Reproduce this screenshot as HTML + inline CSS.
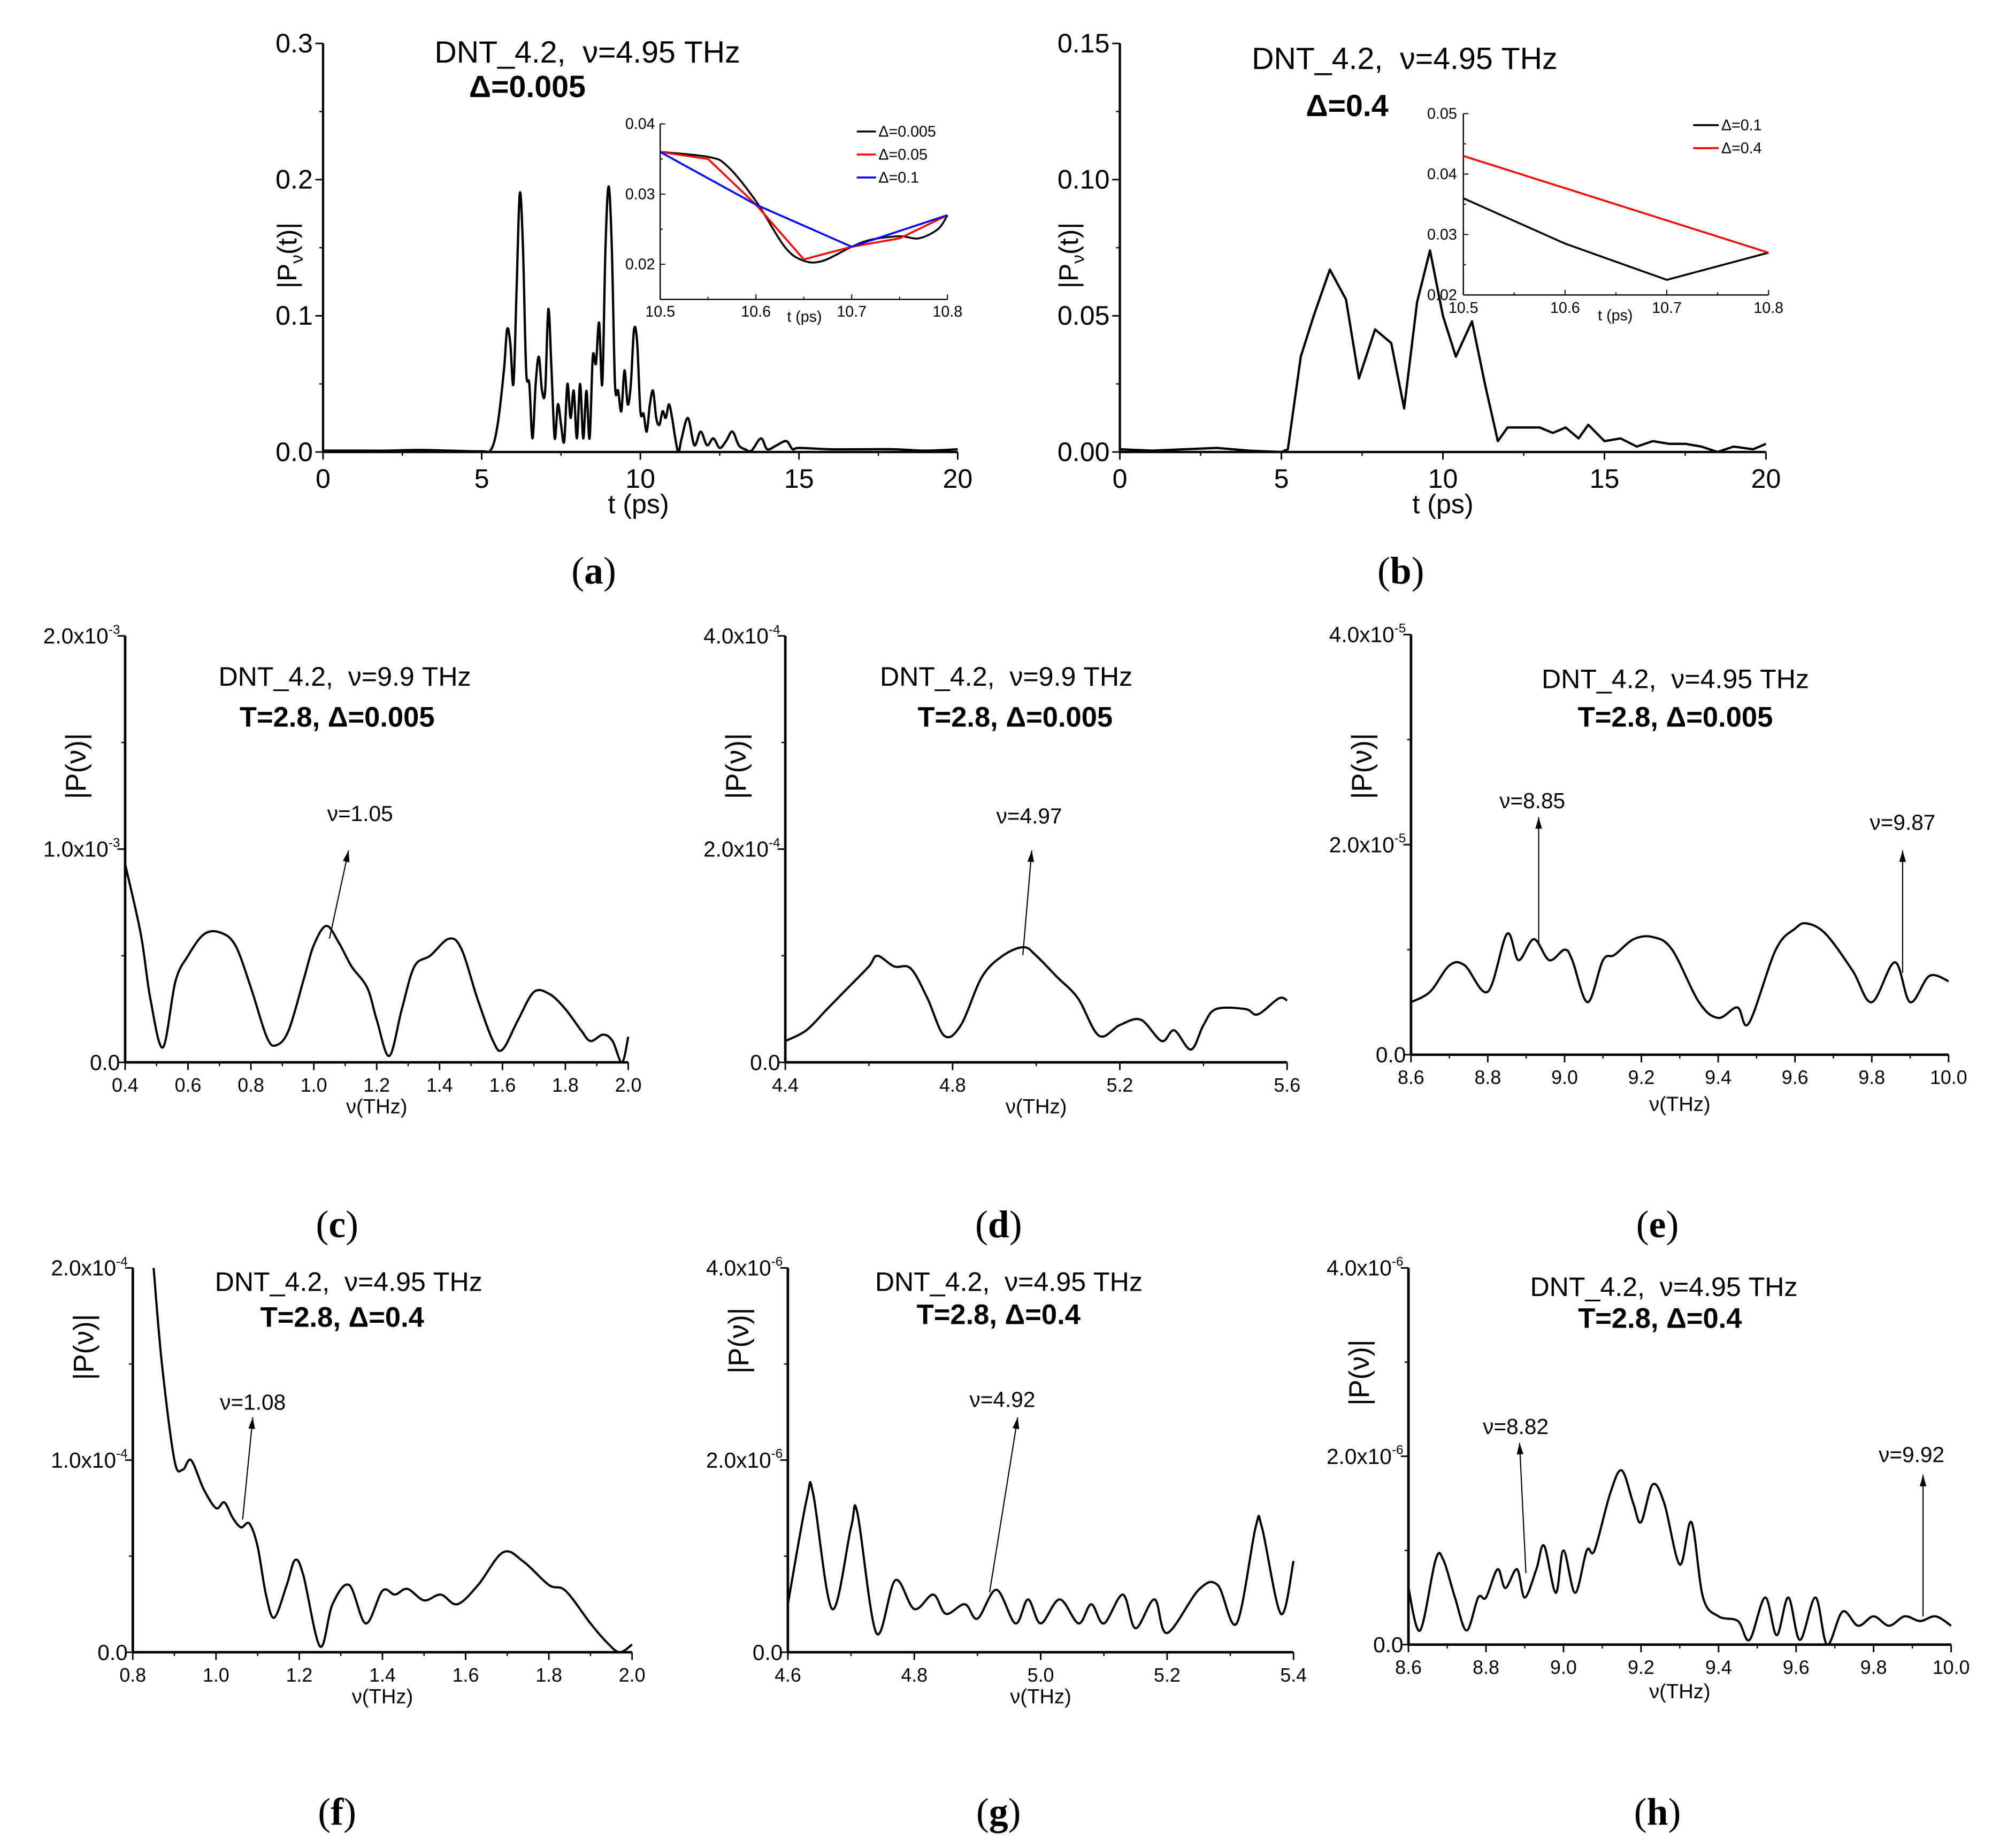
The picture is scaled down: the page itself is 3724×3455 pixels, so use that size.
<!DOCTYPE html>
<html><head><meta charset="utf-8"><style>
html,body{margin:0;padding:0;background:#fff}
svg{display:block}
text{font-family:"Liberation Sans",sans-serif;fill:#000;white-space:pre}
.ser{font-family:"Liberation Serif",serif}
</style></head><body>
<svg id="fig" width="3724" height="3455" viewBox="0 0 1560 1447.3" xmlns="http://www.w3.org/2000/svg">
<rect width="1560" height="1447.3" fill="#fff"/>
<g id="root"></g>
</svg>
<script>
// ---- data ----
const aT=[0,1,2,3,4,5,5.3,5.5,5.7,5.8,5.9,6.0,6.1,6.2,6.3,6.4,6.5,6.6,6.7,6.8,6.9,7.0,7.1,7.2,7.3,7.4,7.5,7.6,7.7,7.8,7.9,8.0,8.1,8.2,8.3,8.4,8.5,8.6,8.7,8.8,8.9,9.0,9.1,9.2,9.3,9.4,9.5,9.6,9.7,9.8,9.9,10.0,10.1,10.2,10.3,10.4,10.5,10.6,10.7,10.8,10.9,11.0,11.1,11.2,11.3,11.5,11.7,11.9,12.1,12.3,12.5,12.7,12.9,13.1,13.3,13.5,13.8,14.0,14.3,14.6,14.8,15,16,17,18,19,20];
const aV=[0.001,0.001,0.001,0.0015,0.001,0.0005,0.002,0.02,0.06,0.09,0.08,0.05,0.12,0.19,0.15,0.06,0.05,0.01,0.05,0.07,0.045,0.045,0.105,0.06,0.01,0.035,0.02,0.008,0.05,0.025,0.045,0.01,0.05,0.01,0.045,0.01,0.07,0.065,0.095,0.05,0.15,0.195,0.15,0.05,0.045,0.03,0.06,0.035,0.05,0.09,0.08,0.03,0.028,0.015,0.035,0.045,0.025,0.02,0.03,0.025,0.035,0.025,0.01,0.0,0.01,0.025,0.005,0.015,0.005,0.01,0.003,0.008,0.015,0.005,0.002,0.001,0.01,0.002,0.005,0.008,0.002,0.003,0.002,0.002,0.002,0.001,0.002];
const aInsBlackT=[10.5,10.55,10.57,10.6,10.63,10.65,10.67,10.7,10.72,10.75,10.77,10.79,10.8];
const aInsBlackV=[0.036,0.0353,0.034,0.029,0.0225,0.0205,0.0205,0.0225,0.0235,0.024,0.0237,0.025,0.027];
const aInsRedT=[10.5,10.55,10.6,10.65,10.7,10.75,10.8];
const aInsRedV=[0.036,0.035,0.0285,0.0207,0.0225,0.0237,0.027];
const aInsBlueT=[10.5,10.6,10.7,10.8];
const aInsBlueV=[0.036,0.0285,0.0225,0.027];
const bT=[0,1,2,3,4,5,5.2,5.6,6,6.5,7,7.4,7.9,8.4,8.8,9.2,9.6,10,10.4,10.9,11.3,11.7,12,13,13.4,13.8,14.2,14.5,15,15.5,16,16.5,17,17.5,18,18.5,19,19.6,20];
const bV=[0.001,0.0005,0.001,0.0015,0.0005,0.0,0.001,0.035,0.05,0.067,0.056,0.027,0.045,0.04,0.016,0.055,0.074,0.05,0.035,0.048,0.025,0.004,0.009,0.009,0.007,0.009,0.005,0.01,0.004,0.005,0.002,0.004,0.003,0.003,0.002,0.0,0.002,0.001,0.003];
const bInsBlackT=[10.5,10.6,10.7,10.8];
const bInsBlackV=[0.036,0.0285,0.0225,0.027];
const bInsRedT=[10.5,10.8];
const bInsRedV=[0.043,0.027];
const cF=[0.4,0.45,0.48,0.52,0.56,0.6,0.65,0.7,0.75,0.8,0.85,0.88,0.92,0.97,1.0,1.04,1.08,1.12,1.17,1.2,1.24,1.28,1.32,1.37,1.43,1.47,1.52,1.57,1.6,1.65,1.7,1.75,1.8,1.85,1.88,1.92,1.95,1.98,2.0];
const cP=[0.93,0.6,0.3,0.07,0.38,0.5,0.6,0.61,0.55,0.35,0.12,0.08,0.15,0.4,0.55,0.64,0.56,0.45,0.35,0.2,0.03,0.25,0.45,0.5,0.58,0.53,0.3,0.1,0.06,0.2,0.33,0.32,0.25,0.15,0.1,0.13,0.1,0.0,0.12];
const dF=[4.4,4.45,4.5,4.55,4.6,4.62,4.66,4.7,4.74,4.78,4.82,4.87,4.92,4.97,5.0,5.05,5.1,5.15,5.2,5.25,5.3,5.33,5.37,5.4,5.43,5.5,5.53,5.58,5.6];
const dP=[0.2,0.3,0.5,0.7,0.9,1.0,0.9,0.88,0.6,0.25,0.35,0.8,1.0,1.08,1.0,0.8,0.6,0.25,0.35,0.4,0.2,0.3,0.12,0.35,0.5,0.5,0.45,0.6,0.58];
const eF=[8.6,8.65,8.7,8.74,8.8,8.85,8.88,8.92,8.96,9.0,9.02,9.06,9.1,9.13,9.18,9.23,9.28,9.35,9.4,9.45,9.48,9.55,9.6,9.63,9.68,9.75,9.8,9.86,9.9,9.95,10.0];
const eP=[0.5,0.6,0.85,0.85,0.6,1.15,0.9,1.1,0.9,1.0,0.9,0.5,0.9,0.95,1.1,1.12,1.0,0.5,0.35,0.45,0.3,1.0,1.2,1.25,1.15,0.8,0.5,0.88,0.5,0.75,0.7];
const fF=[0.85,0.87,0.9,0.92,0.94,0.97,1.0,1.02,1.04,1.06,1.08,1.1,1.12,1.14,1.17,1.19,1.21,1.25,1.28,1.32,1.36,1.4,1.43,1.46,1.5,1.54,1.58,1.63,1.69,1.74,1.8,1.84,1.9,1.94,1.97,2.0];
const fP=[2.0,1.5,1.0,0.95,1.0,0.85,0.75,0.78,0.7,0.65,0.67,0.55,0.3,0.18,0.35,0.48,0.4,0.03,0.25,0.35,0.15,0.32,0.3,0.33,0.27,0.3,0.25,0.35,0.52,0.47,0.35,0.32,0.15,0.05,0.0,0.04];
const gF=[4.6,4.63,4.64,4.67,4.7,4.71,4.74,4.77,4.8,4.83,4.85,4.88,4.9,4.93,4.96,4.98,5.0,5.03,5.06,5.08,5.1,5.13,5.15,5.18,5.2,5.25,5.28,5.31,5.34,5.35,5.38,5.4];
const gP=[0.5,1.6,1.65,0.45,1.3,1.45,0.2,0.75,0.45,0.6,0.4,0.5,0.35,0.65,0.3,0.55,0.3,0.55,0.3,0.5,0.3,0.6,0.25,0.55,0.2,0.65,0.7,0.3,1.3,1.3,0.4,0.95];
const hF=[8.6,8.63,8.67,8.69,8.72,8.75,8.78,8.8,8.83,8.85,8.88,8.9,8.93,8.95,8.98,9.0,9.03,9.06,9.08,9.12,9.15,9.18,9.2,9.23,9.26,9.3,9.33,9.36,9.4,9.45,9.48,9.52,9.55,9.58,9.61,9.65,9.68,9.72,9.76,9.8,9.84,9.88,9.92,9.96,10.0];
const hP=[0.6,0.15,0.9,0.9,0.5,0.15,0.5,0.5,0.8,0.6,0.8,0.5,0.8,1.05,0.55,1.0,0.55,1.0,1.0,1.6,1.85,1.5,1.3,1.7,1.5,0.85,1.3,0.5,0.3,0.25,0.05,0.5,0.1,0.5,0.05,0.5,0.0,0.35,0.2,0.3,0.2,0.3,0.25,0.3,0.2];
const aXTicks=["0","5","10","15","20"];
const aYTicks=["0.0","0.1","0.2","0.3"];
const bYTicks=["0.00","0.05","0.10","0.15"];

// ---- helpers ----
const NS="http://www.w3.org/2000/svg";
const root=document.getElementById('root');
function el(tag,attrs,parent,txt){const e=document.createElementNS(NS,tag);for(const k in attrs)e.setAttribute(k,attrs[k]);if(txt!==undefined)e.textContent=txt;(parent||root).appendChild(e);return e;}
function scale(d0,d1,r0,r1){return v=>r0+(v-d0)*(r1-r0)/(d1-d0);}
function line(x1,y1,x2,y2,g,w){return el('line',{x1,y1,x2,y2,stroke:'#000','stroke-width':w||1.3},g);}
function series(xs,ys,sx,sy,g,color,w,name,smooth){
  const P=xs.map((x,i)=>[sx(x),sy(ys[i])]);
  let d='M'+P[0][0].toFixed(2)+','+P[0][1].toFixed(2);
  for(let i=0;i<P.length-1;i++){
    if(!smooth){d+='L'+P[i+1][0].toFixed(2)+','+P[i+1][1].toFixed(2);continue;}
    const p0=P[Math.max(0,i-1)],p1=P[i],p2=P[i+1],p3=P[Math.min(P.length-1,i+2)];
    const c1=[p1[0]+(p2[0]-p0[0])/6,p1[1]+(p2[1]-p0[1])/6];
    const c2=[p2[0]-(p3[0]-p1[0])/6,p2[1]-(p3[1]-p1[1])/6];
    d+='C'+c1.map(v=>v.toFixed(2)).join(',')+' '+c2.map(v=>v.toFixed(2)).join(',')+' '+p2[0].toFixed(2)+','+p2[1].toFixed(2);
  }
  const p=el('path',{d,fill:'none',stroke:color,'stroke-width':w,'stroke-linejoin':'round'},g);
  
  
  return p;
}
function axes(g,sx,sy,x0,x1,y0,y1,xmaj,xmin,ymaj,ymin,xlabels,ylabelFn,fs,lw,xlabDy,ylabDx){
  line(sx(x0),sy(y0),sx(x1),sy(y0),g,lw);
  line(sx(x0),sy(y0),sx(x0),sy(y1),g,lw);
  for(let v=x0;v<=x1+1e-9;v+=xmin){line(sx(v),sy(y0),sx(v),sy(y0)+3,g,1);}
  let i=0;
  for(let v=x0;v<=x1+1e-9;v+=xmaj){line(sx(v),sy(y0),sx(v),sy(y0)+6,g,1.2);
    if(xlabels){const t=el('text',{x:sx(v),y:sy(y0)+xlabDy,'font-size':fs,'text-anchor':'middle'},g,xlabels[i]);
      }
    i++;}
  for(let v=y0;v<=y1+1e-9;v+=ymin){line(sx(x0),sy(v),sx(x0)-3,sy(v),g,1);}
  i=0;
  for(let v=y0;v<=y1+1e-9;v+=ymaj){line(sx(x0),sy(v),sx(x0)-6,sy(v),g,1.2);
    if(ylabelFn)ylabelFn(sx(x0)-ylabDx,sy(v),i);i++;}
}
function txt(x,y,s,fs,g,opts){const a=Object.assign({x,y,'font-size':fs,'text-anchor':'middle'},opts||{});return el('text',a,g,s);}
function sciLabel(g,x,y,mant,exp,fs){
  const t=el('text',{x,y:y+fs*0.35,'font-size':fs,'text-anchor':'end'},g);
  el('tspan',{},t,mant+'x10');
  el('tspan',{'font-size':fs*0.6,dy:-fs*0.45},t,exp);
  
}
function arrow(g,x1,y1,x2,y2){
  line(x1,y1,x2,y2,g,0.9);
  const ang=Math.atan2(y2-y1,x2-x1),L=9,W=2.6;
  const bx=x2-L*Math.cos(ang),by=y2-L*Math.sin(ang);
  const px=-Math.sin(ang)*W,py=Math.cos(ang)*W;
  el('polygon',{points:`${x2},${y2} ${bx+px},${by+py} ${bx-px},${by-py}`,fill:'#000'},g);
}
function panelLabel(x,y,letter,name){
  const t=el('text',{x,y,'font-size':30,'text-anchor':'middle',class:'ser'});
  el('tspan',{},t,'(');el('tspan',{'font-weight':'bold'},t,letter);el('tspan',{},t,')');
  
}
function group(name){const g=el('g',{});return g;}

// ---- Panel a ----
(function(){
  const g=group('panel-a');
  const sx=scale(0,20,253,750), sy=scale(0,0.3,354,34);
  axes(g,sx,sy,0,20,0,0.3,5,2.5,0.1,0.05,aXTicks,(x,y,i)=>{txt(x,y+7,aYTicks[i],21,g,{'text-anchor':'end'});},21,1.8,28,8);
  series(aT,aV,sx,sy,g,'#000',1.8,'series-delta-0.005',true);
  txt(500,402,'t (ps)',21,g);
  const yl=el('text',{x:0,y:0,'font-size':21,'text-anchor':'middle',transform:'translate(232,200) rotate(-90)'},g);
  el('tspan',{},yl,'|P');el('tspan',{'font-size':14,dy:5},yl,'ν');el('tspan',{dy:-5},yl,'(t)|');
  
  txt(460,49,'DNT_4.2,  ν=4.95 THz',24,g);
  txt(413,76,'Δ=0.005',24,g,{'font-weight':'bold'});
  const ig=group('inset-a');g.appendChild(ig);
  const ix=scale(10.5,10.8,517,742), iy=scale(0.015,0.04,234.5,97);
  line(ix(10.5),iy(0.015),ix(10.8),iy(0.015),ig,1);line(ix(10.5),iy(0.015),ix(10.5),iy(0.04),ig,1);
  [10.5,10.55,10.6,10.65,10.7,10.75,10.8].forEach((v,i)=>line(ix(v),iy(0.015),ix(v),iy(0.015)-(i%2?2:4),ig,0.8));
  [0.015,0.02,0.025,0.03,0.035,0.04].forEach((v,i)=>line(ix(10.5),iy(v),ix(10.5)+(i%2?4:2),iy(v),ig,0.8));
  ['10.5','10.6','10.7','10.8'].forEach((s,i)=>txt(ix(10.5+0.1*i),248,s,12,ig));
  txt(630,252,'t (ps)',12,ig);
  ['0.02','0.03','0.04'].forEach((s,i)=>txt(513,iy(0.02+0.01*i)+4,s,12,ig,{'text-anchor':'end'}));
  series(aInsBlackT,aInsBlackV,ix,iy,ig,'#000',1.5,'inset-black-line',true);
  series(aInsRedT,aInsRedV,ix,iy,ig,'#f00',1.5,'inset-red-line',false);
  series(aInsBlueT,aInsBlueV,ix,iy,ig,'#00f',1.5,'inset-blue-line',false);
  [['#000','Δ=0.005',103],['#f00','Δ=0.05',121],['#00f','Δ=0.1',139]].forEach(([c,s,y])=>{
    const l=el('line',{x1:671,y1:y,x2:686,y2:y,stroke:c,'stroke-width':1.5},ig);
    
    const t=txt(688,y+4,s,12,ig,{'text-anchor':'start'});
  });
})();
panelLabel(465,457,'a','panel-label-a');

// ---- Panel b ----
(function(){
  const g=group('panel-b');
  const sx=scale(0,20,877,1383), sy=scale(0,0.15,354,34);
  axes(g,sx,sy,0,20,0,0.15,5,2.5,0.05,0.025,aXTicks,(x,y,i)=>{txt(x,y+7,bYTicks[i],21,g,{'text-anchor':'end'});},21,1.8,28,8);
  series(bT,bV,sx,sy,g,'#000',1.8,'series-delta-0.4',false);
  txt(1130,402,'t (ps)',21,g);
  const yl=el('text',{x:0,y:0,'font-size':21,'text-anchor':'middle',transform:'translate(844,200) rotate(-90)'},g);
  el('tspan',{},yl,'|P');el('tspan',{'font-size':14,dy:5},yl,'ν');el('tspan',{dy:-5},yl,'(t)|');
  
  txt(1100,54,'DNT_4.2,  ν=4.95 THz',24,g);
  txt(1055,91,'Δ=0.4',24,g,{'font-weight':'bold'});
  const ig=group('inset-b');g.appendChild(ig);
  const ix=scale(10.5,10.8,1146,1385), iy=scale(0.02,0.05,231,89);
  line(ix(10.5),iy(0.02),ix(10.8),iy(0.02),ig,1);line(ix(10.5),iy(0.02),ix(10.5),iy(0.05),ig,1);
  [10.5,10.55,10.6,10.65,10.7,10.75,10.8].forEach((v,i)=>line(ix(v),iy(0.02),ix(v),iy(0.02)-(i%2?2:4),ig,0.8));
  [0.02,0.025,0.03,0.035,0.04,0.045,0.05].forEach((v,i)=>line(ix(10.5),iy(v),ix(10.5)+(i%2?2:4),iy(v),ig,0.8));
  ['10.5','10.6','10.7','10.8'].forEach((s,i)=>txt(ix(10.5+0.1*i),245,s,12,ig));
  txt(1265,251,'t (ps)',12,ig);
  ['0.02','0.03','0.04','0.05'].forEach((s,i)=>txt(1141,iy(0.02+0.01*i)+4,s,12,ig,{'text-anchor':'end'}));
  series(bInsBlackT,bInsBlackV,ix,iy,ig,'#000',1.5,'inset-black-line',false);
  series(bInsRedT,bInsRedV,ix,iy,ig,'#f00',1.5,'inset-red-line',false);
  [['#000','Δ=0.1',98],['#f00','Δ=0.4',116]].forEach(([c,s,y])=>{
    const l=el('line',{x1:1326,y1:y,x2:1346,y2:y,stroke:c,'stroke-width':1.5},ig);
    
    const t=txt(1348,y+4,s,12,ig,{'text-anchor':'start'});
  });
})();
panelLabel(1097,457,'b','panel-label-b');

// ---- spectrum panels ----
function spec(name,cfg,xs,ys){
  const g=group(name);
  const sx=scale(cfg.x0,cfg.x1,cfg.px0,cfg.px1), sy=scale(0,cfg.ymax,cfg.py0,cfg.py1);
  const labs=[];for(let v=cfg.x0,i=0;v<=cfg.x1+1e-9;v+=cfg.xmaj,i++)labs.push(v.toFixed(1));
  axes(g,sx,sy,cfg.x0,cfg.x1,0,cfg.ymax,cfg.xmaj,cfg.xmaj/2,cfg.ymax/2,cfg.ymax/4,labs,(x,y,i)=>{
    if(i===0){txt(x,y+6,'0.0',17,g,{'text-anchor':'end'});}
    else sciLabel(g,x,y,(cfg.ymax/2*i*Math.pow(10,cfg.exp)).toFixed(1),'-'+cfg.exp,17);
  },15,2,cfg.xlabDy||23,4);
  series(xs,ys.map(v=>v*Math.pow(10,-cfg.exp)),sx,sy,g,'#000',1.7,'spectrum-line',true);
  txt((cfg.px0+cfg.px1)/2,cfg.py0+cfg.xtDy,'ν(THz)',16,g);
  const yl=el('text',{x:0,y:0,'font-size':22,'text-anchor':'middle',transform:`translate(${cfg.px0-31},${cfg.ylY}) rotate(-90)`},g,'|P(ν)|');
  
  txt(cfg.tx,cfg.ty,cfg.title,21,g);
  txt(cfg.bx,cfg.by,cfg.bold,22,g,{'font-weight':'bold'});
  cfg.ann.forEach(a=>{
    const t=txt(a.lx,a.ly,a.s,17,g);
    arrow(g,a.x1,a.y1,a.x2,a.y2);
  });
}
spec('panel-c',{x0:0.4,x1:2.0,px0:98,px1:492,ymax:2e-3,py0:832,py1:498,xmaj:0.2,exp:3,xtDy:40,ylY:600,
  tx:270,ty:537,title:'DNT_4.2,  ν=9.9 THz',bx:264,by:569,bold:'T=2.8, Δ=0.005',
  ann:[{s:'ν=1.05',lx:282,ly:643,x1:258,y1:735,x2:273,y2:666}]},cF,cP);
spec('panel-d',{x0:4.4,x1:5.6,px0:615,px1:1008,ymax:4e-4,py0:832,py1:498,xmaj:0.4,exp:4,xtDy:40,ylY:600,
  tx:788,ty:537,title:'DNT_4.2,  ν=9.9 THz',bx:795,by:569,bold:'T=2.8, Δ=0.005',
  ann:[{s:'ν=4.97',lx:806,ly:645,x1:801,y1:748,x2:808,y2:666}]},dF,dP);
spec('panel-e',{x0:8.6,x1:10.0,px0:1105,px1:1526,ymax:4e-5,py0:826,py1:497,xmaj:0.2,exp:5,xtDy:44,ylY:600,
  tx:1312,ty:539,title:'DNT_4.2,  ν=4.95 THz',bx:1312,by:569,bold:'T=2.8, Δ=0.005',
  ann:[{s:'ν=8.85',lx:1200,ly:633,x1:1205,y1:738,x2:1205,y2:640},{s:'ν=9.87',lx:1490,ly:650,x1:1490,y1:762,x2:1490,y2:666}]},eF,eP);
spec('panel-f',{x0:0.8,x1:2.0,px0:104,px1:495,ymax:2e-4,py0:1294,py1:993,xmaj:0.2,exp:4,xtDy:40,ylY:1055,
  tx:273,ty:1011,title:'DNT_4.2,  ν=4.95 THz',bx:268,by:1039,bold:'T=2.8, Δ=0.4',
  ann:[{s:'ν=1.08',lx:198,ly:1104,x1:190,y1:1190,x2:198,y2:1110}]},fF,fP);
spec('panel-g',{x0:4.6,x1:5.4,px0:617,px1:1013,ymax:4e-6,py0:1294,py1:993,xmaj:0.2,exp:6,xtDy:40,ylY:1050,
  tx:790,ty:1011,title:'DNT_4.2,  ν=4.95 THz',bx:782,by:1037,bold:'T=2.8, Δ=0.4',
  ann:[{s:'ν=4.92',lx:785,ly:1102,x1:775,y1:1247,x2:797,y2:1110}]},gF,gP);
spec('panel-h',{x0:8.6,x1:10.0,px0:1103,px1:1528,ymax:4e-6,py0:1288,py1:993,xmaj:0.2,exp:6,xtDy:42,ylY:1075,
  tx:1303,ty:1015,title:'DNT_4.2,  ν=4.95 THz',bx:1300,by:1040,bold:'T=2.8, Δ=0.4',
  ann:[{s:'ν=8.82',lx:1187,ly:1123,x1:1195,y1:1232,x2:1190,y2:1130},{s:'ν=9.92',lx:1497,ly:1145,x1:1506,y1:1266,x2:1506,y2:1155}]},hF,hP);
panelLabel(264,969,'c','panel-label-c');
panelLabel(782,969,'d','panel-label-d');
panelLabel(1298,969,'e','panel-label-e');
panelLabel(264,1429,'f','panel-label-f');
panelLabel(782,1429,'g','panel-label-g');
panelLabel(1298,1429,'h','panel-label-h');
</script>
</body></html>
